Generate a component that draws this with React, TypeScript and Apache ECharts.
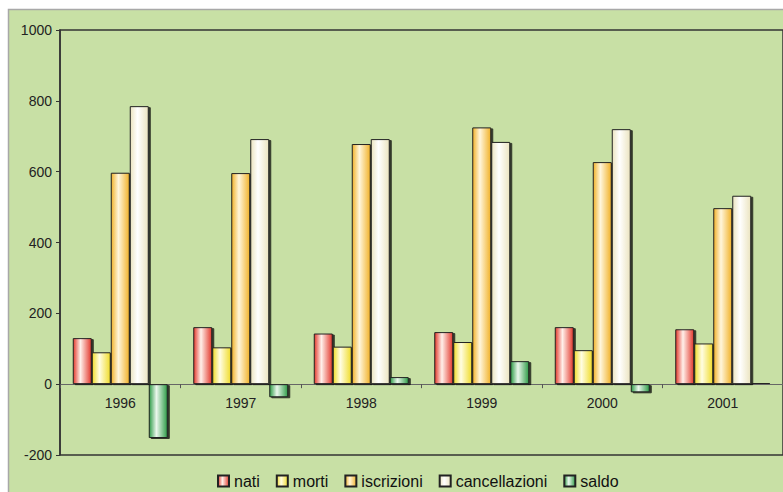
import React, { useEffect, useRef } from "react";
import * as echarts from "echarts";

const years = ["1996", "1997", "1998", "1999", "2000", "2001"];
const nati = [130, 161, 143, 147, 161, 155];
const morti = [90, 104, 106, 119, 96, 115];
const iscrizioni = [597, 596, 678, 725, 627, 497];
const cancellazioni = [785, 692, 692, 684, 720, 532];
const saldo = [-152, -37, 20, 65, -23, 3];
const seriesNames = ["nati", "morti", "iscrizioni", "cancellazioni", "saldo"];

const FONT = "'Liberation Sans', Arial, sans-serif";

function grad(edge: string, mid: string) {
  return new echarts.graphic.LinearGradient(0, 0, 1, 0, [
    { offset: 0, color: edge },
    { offset: 0.4, color: mid },
    { offset: 1, color: edge },
  ]);
}

export default function App() {
  const ref = useRef<HTMLDivElement>(null);
  useEffect(() => {
    if (!ref.current) return;
    const chart = echarts.init(ref.current, null, { renderer: "svg" });
    const styles = [
      grad("#e33a2e", "#fff0ea"),
      grad("#f0dc2c", "#fffde2"),
      grad("#f1b22a", "#fff6dc"),
      grad("#ebe4c0", "#ffffff"),
      grad("#2f9c48", "#eaf7ec"),
    ];
    const datas = [nati, morti, iscrizioni, cancellazioni, saldo];
    const gridTop = 30;
    const gridH = 425;
    const yMin = -200;
    const yMax = 1000;
    const zeroOffset = (gridH * (0 - yMin)) / (yMax - yMin);
    chart.setOption({
      animation: false,
      backgroundColor: "#ffffff",
      textStyle: { fontFamily: FONT },
      graphic: [
        {
          type: "rect",
          shape: { x: 8.5, y: 9.5, width: 820, height: 520 },
          style: { fill: "#c8e0a5", stroke: "#a8a8a8", lineWidth: 1.5 },
          z: -10,
          silent: true,
        },
      ],
      grid: {
        left: 60,
        top: gridTop,
        width: 726,
        height: gridH,
        show: true,
        borderColor: "#333",
        borderWidth: 1.5,
        backgroundColor: "transparent",
      },
      legend: {
        left: 217,
        top: 472,
        padding: 0,
        itemWidth: 11,
        itemHeight: 11,
        itemGap: 16,
        icon: "rect",
        textStyle: { fontSize: 16, lineHeight: 18, color: "#111", fontFamily: FONT },
        data: seriesNames,
      },
      xAxis: {
        type: "category",
        data: years,
        position: "bottom",
        offset: -zeroOffset,
        axisLine: { show: true, onZero: false, lineStyle: { color: "#666", width: 1 } },
        axisTick: { show: true, length: 4, lineStyle: { color: "#555" } },
        axisLabel: { color: "#222", fontSize: 14, margin: 12, fontFamily: FONT },
        splitLine: { show: false },
      },
      yAxis: {
        type: "value",
        min: yMin,
        max: yMax,
        interval: 200,
        axisLine: { show: true, lineStyle: { color: "#333", width: 1.5 } },
        axisTick: { show: true, length: 4, lineStyle: { color: "#333" } },
        axisLabel: {
          color: "#222",
          fontSize: 14,
          margin: 8,
          fontFamily: FONT,
          formatter: (v: number) => String(v),
        },
        splitLine: { show: false },
      },
      series: seriesNames.map((name, i) => ({
        name,
        type: "bar",
        data: datas[i],
        barWidth: 19,
        barGap: "0%",
        itemStyle: {
          color: styles[i],
          borderColor: "#222",
          borderWidth: 1,
          shadowColor: "rgba(0,0,0,0.75)",
          shadowOffsetX: 2,
          shadowOffsetY: 1,
          shadowBlur: 0,
        },
      })),
    });
    return () => chart.dispose();
  }, []);
  return (
    <div
      ref={ref}
      style={{ position: "fixed", left: 0, top: 0, width: 783, height: 492 }}
    />
  );
}
